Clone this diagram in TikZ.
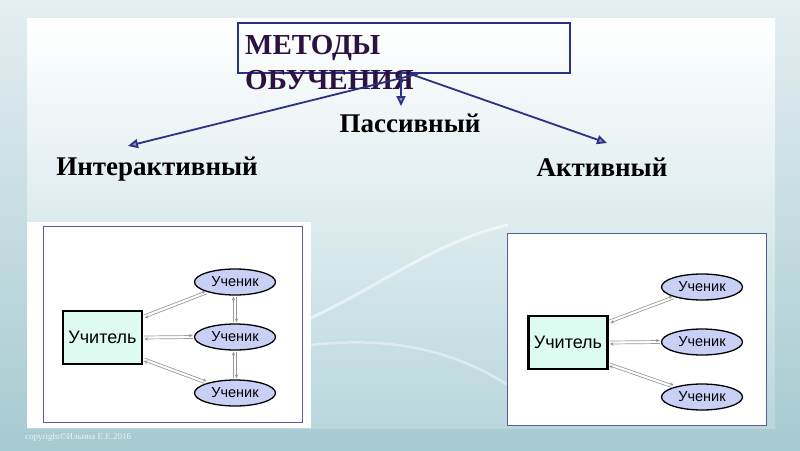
\documentclass[tikz,border=0pt]{standalone}
\usepackage{fontspec}
\setmainfont{Liberation Serif}
\newfontfamily\diagfont{Liberation Sans}
\usetikzlibrary{positioning, shapes.geometric, arrows.meta, calc}
\definecolor{slidetop}{HTML}{E4EEF1}
\definecolor{slidebottom}{HTML}{A6CAD1}
\definecolor{panelbottom}{HTML}{B9D7DD}
\definecolor{titlenavy}{HTML}{2B3183}
\definecolor{titleink}{HTML}{2C1242}
\definecolor{tipfill}{HTML}{8E93C8}
\definecolor{framepurple}{HTML}{5B5A9E}
\definecolor{mintfill}{HTML}{DDFBF1}
\definecolor{pupilfill}{HTML}{C9D0F6}
\definecolor{linkgray}{HTML}{9A9A9A}
\definecolor{copyink}{HTML}{E8F1F3}

% two thin arrows side by side, one each way
\newcommand{\duplex}[2]{%
  \draw[link] ($(#1)!1.5pt!90:(#2)$) -- ($(#2)!1.5pt!-90:(#1)$);
  \draw[link] ($(#2)!1.5pt!90:(#1)$) -- ($(#1)!1.5pt!-90:(#2)$);
}

\begin{document}
\begin{tikzpicture}[x=1pt, y=-1pt,
  teacher/.style={
    draw=black, line width=2.3pt, fill=mintfill,
    minimum width=79pt, minimum height=53pt, inner sep=0pt,
    font=\diagfont\fontsize{18}{20}\selectfont
  },
  pupil/.style={
    ellipse, draw=black, line width=1.3pt, fill=pupilfill,
    minimum width=81pt, minimum height=26pt, inner sep=0pt,
    font=\diagfont\fontsize{14.5}{16}\selectfont
  },
  link/.style={-{Stealth[length=4pt, width=3.5pt]}, line width=0.7pt, color=linkgray,
    shorten <=1pt, shorten >=1pt},
  branch/.style={-{Triangle[length=10pt, width=9pt, fill=tipfill]}, line width=1.8pt, color=titlenavy},
  kind/.style={anchor=base, inner sep=0pt, font=\bfseries\fontsize{27}{30}\selectfont},
  photo/.style={draw=framepurple, line width=0.6pt, fill=white},
]
\useasboundingbox (0,0) rectangle (800,450);

% slide background
\shade[top color=slidetop, bottom color=slidebottom] (0,0) rectangle (800,450);
\shade[top color=white, middle color=white, bottom color=panelbottom] (27,18) rectangle (775,428);
\draw[white, opacity=0.5, line width=3pt] (311,318) .. controls (390,280) and (440,240) .. (508,225);
\draw[white, opacity=0.4, line width=2.5pt] (311,345) .. controls (400,335) and (460,355) .. (508,385);
\fill[white] (27,222) rectangle (311,428);

% title
\node[draw=titlenavy, line width=1.8pt, minimum width=332pt, minimum height=50pt] (title) at (404,48) {};
\node[anchor=north west, inner sep=0pt, align=left, text=titleink,
      font=\bfseries\fontsize{29}{35}\selectfont] (titletext) at (245,35) {МЕТОДЫ\\ОБУЧЕНИЯ};

% three kinds
\node[kind] (inter) at (157,175) {Интерактивный};
\node[kind] (passive) at (410,132) {Пассивный};
\node[kind] (active) at (602,176) {Активный};

\coordinate (fromL) at ([xshift=14pt]title.south);
\coordinate (fromM) at ([xshift=-3pt]title.south);
\coordinate (fromR) at ([xshift=6pt]title.south);
\coordinate (toL) at (128,146);
\coordinate (toM) at (401,106);
\coordinate (toR) at (607,143);
\draw[branch] (fromL) -- (toL);
\draw[branch] (fromM) -- (toM);
\draw[branch] (fromR) -- (toR);

% interactive scheme
\draw[photo] (43,226) rectangle (302,422);
\node[teacher] (tl) at (102.5,337.5) {Учитель};
\node[pupil] (pl1) at (235,282) {Ученик};
\node[pupil] (pl2) at (235,337) {Ученик};
\node[pupil] (pl3) at (235,393) {Ученик};
\coordinate (tl-up) at ([yshift=-7pt]tl.north east);
\coordinate (tl-down) at ([yshift=6pt]tl.south east);
\duplex{tl-up}{pl1.200}
\duplex{tl.east}{pl2.west}
\duplex{tl-down}{pl3.160}
\duplex{pl1.south}{pl2.north}
\duplex{pl2.south}{pl3.north}

% active scheme
\draw[photo] (507,233) rectangle (766,425);
\node[teacher] (tr) at (568,342.5) {Учитель};
\node[pupil] (pr1) at (702,287) {Ученик};
\node[pupil] (pr2) at (702,342) {Ученик};
\node[pupil] (pr3) at (702,397) {Ученик};
\coordinate (tr-up) at ([yshift=-7pt]tr.north east);
\coordinate (tr-down) at ([yshift=6pt]tr.south east);
\duplex{tr-up}{pr1.200}
\duplex{tr.east}{pr2.west}
\duplex{tr-down}{pr3.160}

\node[anchor=base west, inner sep=0pt, text=copyink, font=\fontsize{9}{10}\selectfont] (copy) at (25,439) {copyright©Ильина Е.Е.2016};
\end{tikzpicture}
\end{document}
